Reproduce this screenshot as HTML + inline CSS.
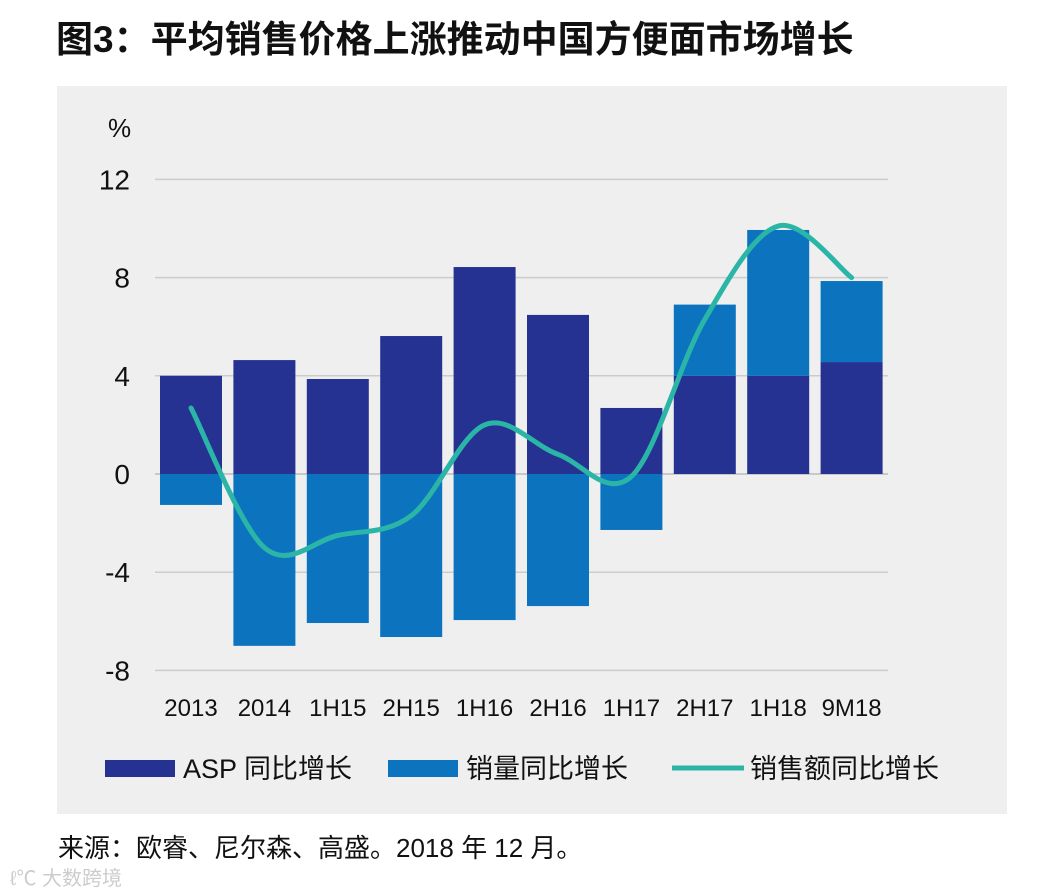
<!DOCTYPE html>
<html><head><meta charset="utf-8"><style>
body{margin:0;width:1056px;height:896px;background:#fff;overflow:hidden;font-family:"Liberation Sans","Noto Sans CJK SC",sans-serif}
</style></head><body>
<svg width="1056" height="896" xmlns="http://www.w3.org/2000/svg" style="position:absolute;left:0;top:0">
<text x="56" y="52" font-size="37" font-weight="bold" fill="#111" font-family="Liberation Sans,Noto Sans CJK SC,sans-serif">图3：平均销售价格上涨推动中国方便面市场增长</text>
<rect x="57" y="86" width="950" height="728" fill="#efefef"/>
<g id="plot"></g>
<text x="58" y="857" font-size="26" fill="#111" font-family="Liberation Sans,Noto Sans CJK SC,sans-serif">来源：欧睿、尼尔森、高盛。2018 年 12 月。</text>
<text x="10" y="885" font-size="20" fill="#ccc" font-family="Liberation Sans,Noto Sans CJK SC,sans-serif">ℓ℃ 大数跨境</text>
</svg>
<script>
const categories=["2013","2014","1H15","2H15","1H16","2H16","1H17","2H17","1H18","9M18"];
const aspValues=[4.0,4.64,3.87,5.62,8.43,6.48,2.69,4.0,4.0,4.56];
const volumeValues=[-1.26,-7.0,-6.07,-6.64,-5.95,-5.38,-2.28,2.9,5.94,3.3];
const salesValues=[2.69,-3.0,-2.5,-1.7,2.0,0.8,-0.1,6.3,10.1,8.0];
const yTicks=[12,8,4,0,-4,-8];
const NS="http://www.w3.org/2000/svg";
const g=document.getElementById('plot');
const y=v=>474-v*24.55;
const xc=i=>191+i*73.4;
const bw=62;
function mk(t,a){const e=document.createElementNS(NS,t);for(const k in a)e.setAttribute(k,a[k]);g.appendChild(e);return e;}
const FF="Liberation Sans,Noto Sans CJK SC,sans-serif";
yTicks.forEach(t=>{
 const l=mk('line',{x1:155,x2:888,y1:y(t),y2:y(t),stroke:t===0?'#bbb':'#ccc','stroke-width':1.5});
 
 
 const tx=mk('text',{x:130,y:y(t)+10,'font-size':28,'text-anchor':'end',fill:'#111','font-family':FF});
 tx.textContent=t;
 
 
});
const pu=mk('text',{x:108,y:137,'font-size':26,fill:'#111','font-family':FF});pu.textContent='%';


categories.forEach((c,i)=>{
 const a=aspValues[i],v=volumeValues[i];
 const r1=mk('rect',{x:xc(i)-bw/2,y:y(a),width:bw,height:y(0)-y(a),fill:'#253291'});
 
 
 let top,h;
 if(v<0){top=y(0);h=y(v)-y(0);}else{top=y(a+v);h=y(a)-y(a+v);}
 const r2=mk('rect',{x:xc(i)-bw/2,y:top,width:bw,height:h,fill:'#0c74bf'});
 
 
 const t=mk('text',{x:xc(i),y:716,'font-size':24,'text-anchor':'middle',fill:'#111','font-family':FF});
 t.textContent=c;
 
 
});
const pts=salesValues.map((v,i)=>[xc(i),y(v)]);
let d='M'+pts[0][0]+','+pts[0][1];
for(let i=0;i<pts.length-1;i++){
 const p0=pts[Math.max(i-1,0)],p1=pts[i],p2=pts[i+1],p3=pts[Math.min(i+2,pts.length-1)];
 const c1=[p1[0]+(p2[0]-p0[0])/6,p1[1]+(p2[1]-p0[1])/6],c2=[p2[0]-(p3[0]-p1[0])/6,p2[1]-(p3[1]-p1[1])/6];
 d+=` C${c1[0]},${c1[1]} ${c2[0]},${c2[1]} ${p2[0]},${p2[1]}`;
}
const ln=mk('path',{d:d,fill:'none',stroke:'#2bb5a6','stroke-width':5,'stroke-linecap':'round'});


const legend=[["rect",105,'#253291','ASP 同比增长',183],["rect",388,'#0c74bf','销量同比增长',466],["line",672,'#2bb5a6','销售额同比增长',750]];
legend.forEach(L=>{
 let m;
 if(L[0]==='rect')m=mk('rect',{x:L[1],y:760,width:70,height:17,fill:L[2]});
 else m=mk('line',{x1:L[1],x2:L[1]+72,y1:768,y2:768,stroke:L[2],'stroke-width':5});
 
 
 const t=mk('text',{x:L[4],y:778,'font-size':27,fill:'#111','font-family':FF});
 t.textContent=L[3];
 
 
});
</script>
</body></html>
